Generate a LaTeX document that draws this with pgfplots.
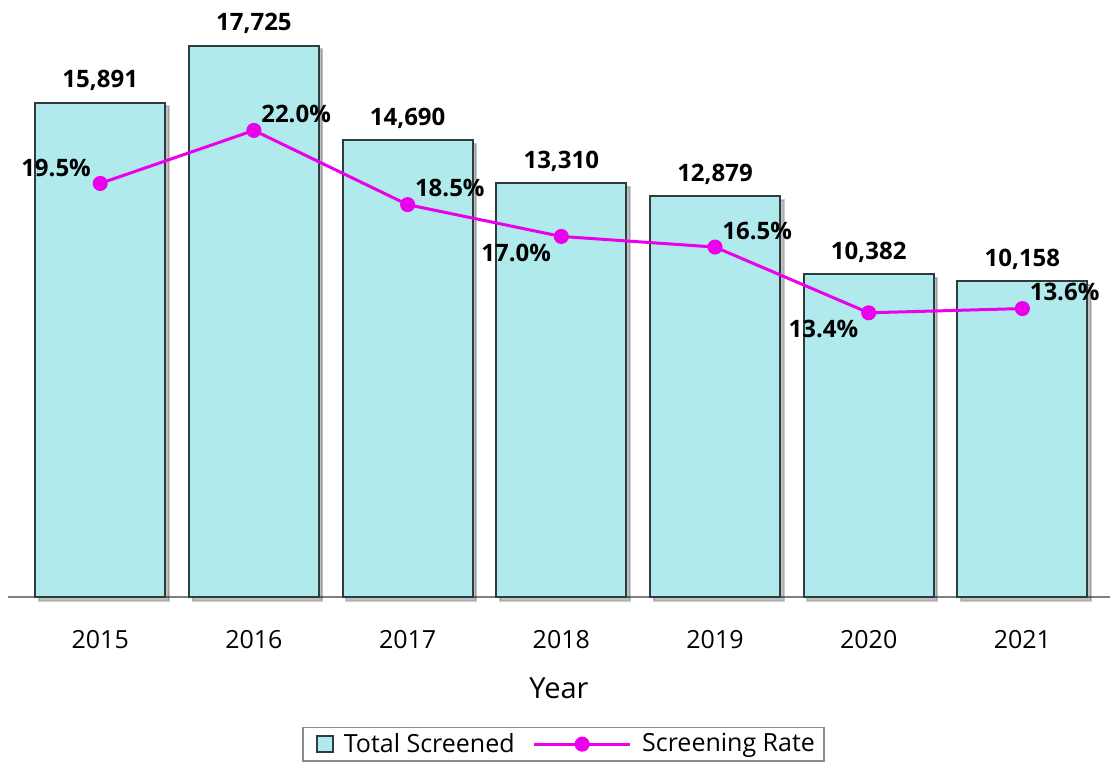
\documentclass[border=0pt]{standalone}
\usepackage{pgfplots}
\pgfplotsset{compat=1.18}
\usepackage{pgfplotstable}
\usepackage{fontspec}
\setmainfont{Open Sans}
\usetikzlibrary{shadows}

\definecolor{barfill}{RGB}{176,234,236}
\definecolor{baredge}{RGB}{45,60,60}
\definecolor{ratecol}{RGB}{235,0,235}

% total screened per year
\pgfplotstableread{
x total
0 15891
1 17725
2 14690
3 13310
4 12879
5 10382
6 10158
}\screened

% screening rate (%)
\pgfplotstableread{
x rate
0 19.5
1 22.0
2 18.5
3 17.0
4 16.5
5 13.4
6 13.6
}\rate

\pgfplotsset{
  ratelabel/.style={draw=none, mark=none, forget plot, point meta=y,
    nodes near coords={\pgfmathprintnumber[fixed,fixed zerofill,precision=1,assume math mode=true]{\pgfplotspointmeta}\%},
    every node near coord/.append style={inner sep=0pt, text=black, font=\bfseries\fontsize{12}{14}\selectfont}},
  ratelegend/.style={legend image code/.code={%
    \draw[mark repeat=2,mark phase=2,##1] plot coordinates {(0pt,0pt) (24pt,0pt) (48pt,0pt)};
    \path[draw=none] (0pt,0pt) -- (52pt,0pt);}},
  barlegend/.style={legend image code/.code={%
    \draw[fill=barfill, draw=baredge, line width=0.8pt] (0pt,-4pt) rectangle (8pt,4pt);
    \path[draw=none] (-4.5pt,0pt) -- (11.5pt,0pt);}},
}

\begin{document}
\begin{tikzpicture}
\begin{axis}[
  name=main,
  scale only axis, width=551pt, height=298.5pt,
  xmin=-0.6, xmax=6.57, ymin=0, ymax=19196,
  axis x line*=bottom, axis y line=none,
  x axis line style={draw=black!50, line width=0.8pt},
  xtick=data,
  xticklabels={2015,2016,2017,2018,2019,2020,2021},
  xtick style={draw=none},
  xticklabel style={anchor=base, inner sep=0pt, yshift=-26pt, font=\fontsize{12.5}{15}\selectfont},
  xlabel={Year},
  xlabel style={at={(rel axis cs:0.5,0)}, anchor=base, inner sep=0pt, yshift=-51pt, font=\fontsize{14.5}{17}\selectfont},
  clip=false,
]
\addplot[ybar, bar width=0.845, fill=barfill, draw=baredge, line width=1pt,
  drop shadow={shadow xshift=1.8pt, shadow yshift=-1.8pt, fill=black, opacity=0.25}]
  table[x=x,y=total]{\screened};
\addplot[draw=none, mark=none, point meta=y,
  nodes near coords={\pgfmathprintnumber[1000 sep={,},assume math mode=true]{\pgfplotspointmeta}},
  every node near coord/.append style={anchor=base, inner sep=0pt, yshift=7.5pt, text=black, font=\bfseries\fontsize{12}{14}\selectfont}]
  table[x=x,y=total]{\screened};
\end{axis}

\begin{axis}[
  scale only axis, width=551pt, height=298.5pt,
  xmin=-0.6, xmax=6.57, ymin=0, ymax=28.15,
  hide axis, clip=false,
  legend style={at={(0.504,-0.2465)}, anchor=center, draw=black!45, line width=0.75pt,
    font=\fontsize{12.5}{14}\selectfont, legend columns=-1, inner xsep=2.5pt, inner ysep=0.8pt,
    /tikz/every even column/.append style={column sep=7pt}},
]
\addlegendimage{barlegend}
\addlegendentry{Total Screened}
\addplot[ratecol, line width=1.5pt, mark=*, mark size=3pt, mark options={fill=ratecol, draw=ratecol}, ratelegend]
  table[x=x,y=rate]{\rate};
\addlegendentry{Screening Rate}
% labels above right
\addplot[ratelabel, every node near coord/.append style={anchor=base west, xshift=3.5pt, yshift=4pt}]
  coordinates {(1,22.0) (2,18.5) (4,16.5) (6,13.6)};
% label above left
\addplot[ratelabel, every node near coord/.append style={anchor=base east, xshift=-4.5pt, yshift=3.5pt}]
  coordinates {(0,19.5)};
% labels below left
\addplot[ratelabel, every node near coord/.append style={anchor=base east, xshift=-5pt, yshift=-12.5pt}]
  coordinates {(3,17.0) (5,13.4)};
\end{axis}

\pgfresetboundingbox
\path ([xshift=-4pt, yshift=-83pt]main.south west) rectangle ([xshift=1.5pt]main.north east);
\end{tikzpicture}
\end{document}
